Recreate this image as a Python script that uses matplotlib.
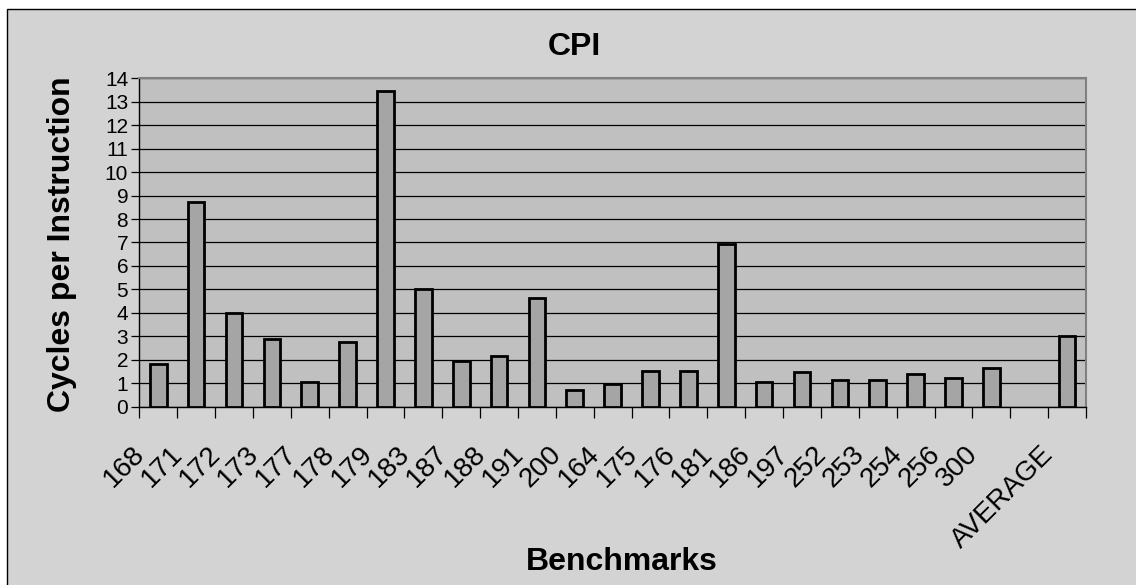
import numpy as np
import matplotlib
matplotlib.use("Agg")
import matplotlib.pyplot as plt
import matplotlib.transforms as mtransforms
from matplotlib.patches import Rectangle

plt.rcParams['font.family'] = ['Liberation Sans', 'DejaVu Sans']

# benchmarks, a blank slot, then the average
benchmarks = ["168", "171", "172", "173", "177", "178", "179", "183", "187", "188",
              "191", "200", "164", "175", "176", "181", "186", "197", "252", "253",
              "254", "256", "300", "", "AVERAGE"]
cpi = [1.80, 8.71, 3.98, 2.88, 1.07, 2.76, 13.45, 5.02, 1.93, 2.15,
       4.65, 0.71, 0.97, 1.52, 1.51, 6.92, 1.05, 1.46, 1.14, 1.14,
       1.41, 1.21, 1.66, np.nan, 3.01]
yticks = list(range(0, 15))

W, H = 1136, 585
fig = plt.figure(figsize=(W / 100, H / 100), dpi=100)
fig.patch.set_facecolor("white")

# chart area frame (top-left corner visible, rest runs off the image)
fig.patches.append(Rectangle((7 / W, -0.1), 1.2, 1 - 9 / H + 0.1,
                             transform=fig.transFigure, facecolor="#D3D3D3",
                             edgecolor="black", linewidth=1.0, zorder=-10))

ax = fig.add_axes([139.3 / W, 1 - 406.7 / H, (1086 - 139.3) / W, (406.7 - 78.3) / H])
ax.set_facecolor("#C0C0C0")

x = np.arange(len(benchmarks))
ax.bar(x, cpi, width=0.44, color="#A5A5A5", edgecolor="black", linewidth=2.0, zorder=3)

ax.set_xlim(-0.5, len(benchmarks) - 0.5)
ax.set_ylim(0, 14)
ax.set_yticks(yticks)
ax.set_yticklabels([str(t) for t in yticks], fontsize=15)
ax.yaxis.grid(True, color="black", linewidth=0.9, zorder=1)
ax.set_axisbelow(True)

# tick marks at category boundaries, labels at centres
ax.set_xticks(np.arange(-0.5, len(benchmarks)), minor=False)
ax.set_xticklabels([])
ax.set_xticks(x, minor=True)
ax.set_xticklabels(benchmarks, minor=True, rotation=45, ha="right", va="top", fontsize=20)
ax.tick_params(axis="x", which="major", direction="out", length=8, width=0.9, color="black")
ax.tick_params(axis="x", which="minor", length=0, pad=25)
ax.tick_params(axis="y", direction="out", length=6, width=0.9, color="black", pad=2)
shift = mtransforms.ScaledTranslation(-8 / 100, 0, fig.dpi_scale_trans)
for lbl in ax.get_xticklabels(minor=True):
    lbl.set_transform(lbl.get_transform() + shift)

for side in ["top", "right"]:
    ax.spines[side].set_color("#808080")
    ax.spines[side].set_linewidth(1.5)
for side in ["left", "bottom"]:
    ax.spines[side].set_color("black")
    ax.spines[side].set_linewidth(1.0)

fig.text(574 / W, 1 - 47 / H, "CPI", ha="center", va="center", fontsize=23, fontweight="bold")
fig.text(622 / W, 1 - 562 / H, "Benchmarks", ha="center", va="center", fontsize=23, fontweight="bold")
fig.text(62 / W, 1 - 244 / H, "Cycles per Instruction", ha="center", va="center",
         rotation=90, fontsize=23, fontweight="bold")

fig.savefig("out.png", dpi=100)
